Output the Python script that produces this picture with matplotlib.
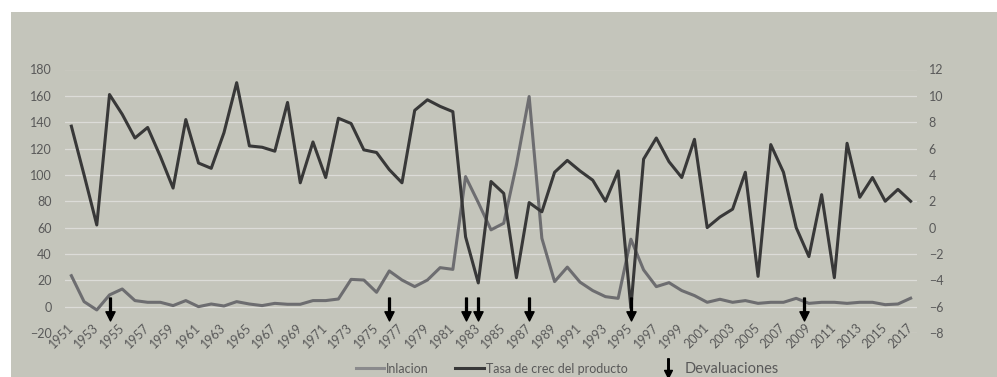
#!/usr/bin/env python3
# Inflacion vs tasa de crecimiento del producto, 1951-2017, con devaluaciones.
# Two y axes: inflation on the left, growth on the right (Excel-style look).

import matplotlib.pyplot as plt
from matplotlib.lines import Line2D
from matplotlib.path import Path
from matplotlib.patches import Rectangle

plt.rcParams["font.family"] = ["Lato", "DejaVu Sans"]

years = list(range(1951, 2018))

inflacion = [
    23.5, 3.8, -2.5, 8.9, 13.4, 4.6, 3.3, 3.3, 0.8, 4.6,      # 1951-1960
    0.0, 2.0, 0.5, 3.8, 2.0, 0.8, 2.5, 1.8, 1.8, 4.6,         # 1961-1970
    4.6, 5.8, 20.7, 20.2, 10.9, 27.1, 20.2, 15.2, 20.2, 29.6, # 1971-1980
    28.3, 98.7, 79.0, 58.3, 63.3, 107.6, 159.5, 51.9, 19.0, 30.0,  # 1981-1990
    18.6, 12.2, 7.6, 6.3, 51.2, 27.9, 15.2, 18.2, 12.2, 8.4,  # 1991-2000
    3.3, 5.6, 3.3, 4.6, 2.5, 3.3, 3.3, 6.3, 2.5, 3.3,         # 2001-2010
    3.3, 2.5, 3.3, 3.3, 1.5, 2.0, 6.4,                        # 2011-2017
]

crecimiento = [
    7.7, 4.0, 0.2, 10.1, 8.6, 6.8, 7.6, 5.4, 3.0, 8.2,        # 1951-1960
    4.9, 4.5, 7.2, 11.0, 6.2, 6.1, 5.8, 9.5, 3.4, 6.5,        # 1961-1970
    3.8, 8.3, 7.9, 5.9, 5.7, 4.4, 3.4, 8.9, 9.7, 9.2,         # 1971-1980
    8.8, -0.7, -4.2, 3.5, 2.6, -3.8, 1.9, 1.2, 4.2, 5.1,      # 1981-1990
    4.3, 3.6, 2.0, 4.3, -6.1, 5.2, 6.8, 5.0, 3.8, 6.7,        # 1991-2000
    0.0, 0.8, 1.4, 4.2, -3.7, 6.3, 4.2, 0.0, -2.2, 2.5,       # 2001-2010
    -3.8, 6.4, 2.3, 3.8, 2.0, 2.9, 2.0,                       # 2011-2017
]

devaluaciones = [1954, 1976, 1982, 1983, 1987, 1995, 2008.6]

BG = "#c4c5bb"
GRID = "#dcdcd8"
TXT = "#595959"
C_INF = "#6d6d70"
C_CREC = "#383838"
ARROW_Y = -6.17   # in right-axis units, just under the zero line

# down arrow marker: thin shaft + triangular head
arrow = Path([(-0.04, 0.5), (0.04, 0.5), (0.04, -0.1), (0.2, -0.1),
              (0.0, -0.5), (-0.2, -0.1), (-0.04, -0.1), (-0.04, 0.5)],
             [Path.MOVETO] + [Path.LINETO] * 6 + [Path.CLOSEPOLY])

fig = plt.figure(figsize=(9.97, 3.77), dpi=100)
fig.patch.set_facecolor("white")
fig.patches.append(Rectangle((11 / 997, 0), 1, (377 - 12) / 377,
                             transform=fig.transFigure, facecolor=BG,
                             edgecolor="none", zorder=-10))

ax = fig.add_axes([65 / 997, 44 / 377, 852 / 997, 263.5 / 377])
ax2 = ax.twinx()
for a in (ax, ax2):
    a.set_facecolor("none")
    for s in a.spines.values():
        s.set_visible(False)
    a.tick_params(length=0, labelsize=9, labelcolor=TXT)

ax.set_xlim(1950.5, 2017.5)
ax.set_ylim(-20, 180)
ax.set_yticks(range(-20, 181, 20))
ax2.set_ylim(-8, 12)
ax2.set_yticks(range(-8, 13, 2))
ax.yaxis.grid(True, color=GRID, linewidth=0.9)
ax.set_axisbelow(True)
ax.tick_params(axis="y", pad=9.5)
ax2.tick_params(axis="y", pad=8.5)

ax.plot(years, inflacion, color=C_INF, linewidth=2.2,
        solid_joinstyle="round", zorder=3)
ax2.plot(years, crecimiento, color=C_CREC, linewidth=2.2,
         solid_joinstyle="round", zorder=3)
ax2.plot(devaluaciones, [ARROW_Y] * len(devaluaciones), linestyle="none",
         marker=arrow, markersize=16.5, color="black", zorder=5)

ax.set_xticks(years[::2])
ax.set_xticklabels([str(y) for y in years[::2]])
ax.tick_params(axis="x", pad=-5)
for lab in ax.get_xticklabels():
    lab.set_rotation(45)
    lab.set_ha("right")
    lab.set_va("center")
    lab.set_rotation_mode("anchor")

handles = [
    Line2D([], [], color="#8a8a8c", linewidth=2.2),
    Line2D([], [], color=C_CREC, linewidth=2.2),
    Line2D([], [], linestyle="none", marker=arrow, markersize=14,
           color="black"),
]
leg = fig.legend(handles, ["Inlacion", "Tasa de crec del producto",
                           "Devaluaciones"],
                 loc="center", bbox_to_anchor=(0.569, 0.022), ncol=3,
                 frameon=False, fontsize=9, handlelength=2.3,
                 handletextpad=0.15, columnspacing=2.1)
for t in leg.get_texts():
    t.set_color(TXT)
leg.get_texts()[2].set_fontsize(10.5)

fig.savefig("out.png", dpi=100, facecolor=fig.get_facecolor())
